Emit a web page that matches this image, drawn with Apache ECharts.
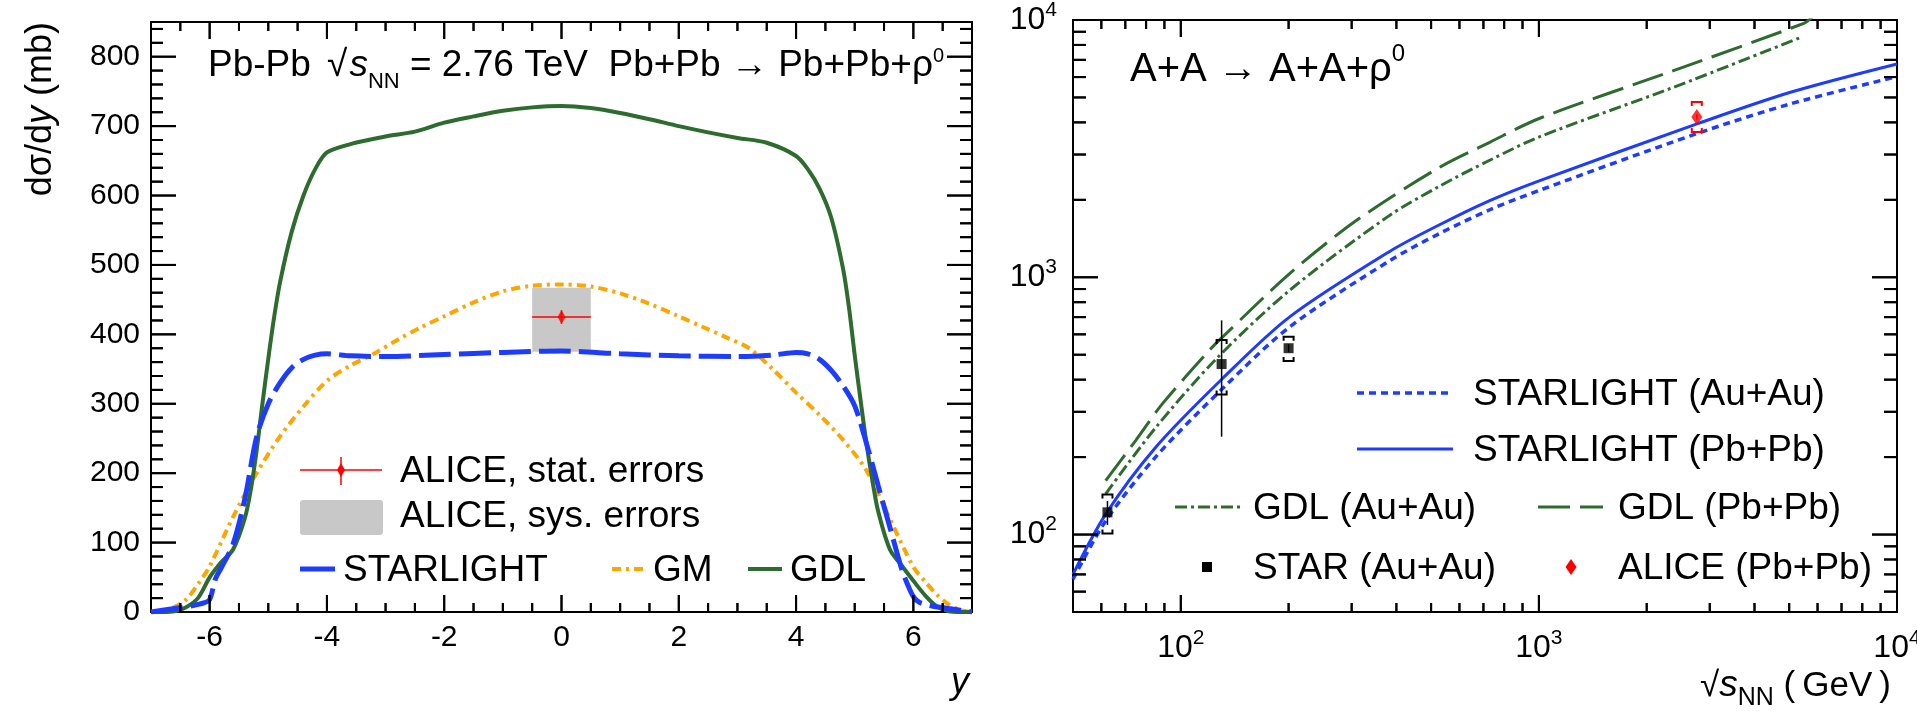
<!DOCTYPE html>
<html>
<head>
<meta charset="utf-8">
<script src="https://cdn.jsdelivr.net/npm/echarts@6/dist/echarts.min.js"></script>
<style>
  html, body { margin: 0; padding: 0; background: #fff; }
  #chart { width: 1917px; height: 711px; }
</style>
</head>
<body>
<div id="chart"></div>
<script>
const FF = '"Liberation Sans", Arial, Helvetica, sans-serif'
const BLUE = '#1e3cff'
const GREEN = '#2e6b2e'
const ORANGE = '#ffa500'
const RED = '#ff0000'
const GRAY = '#c8c8c8'

// ---- left panel: dsigma/dy vs y, Pb-Pb 2.76 TeV (mb)
const slY = [-7, -6.6, -6.3, -6.1, -6.0, -5.9, -5.8, -5.6, -5.4, -5.2, -5.0, -4.8, -4.6, -4.4, -4.2, -4.0, -3.6, -3.0, -2.0, -1.0,
  0, 1, 2, 3, 3.6, 4.0, 4.2, 4.4, 4.6, 4.8, 5.0, 5.2, 5.4, 5.6, 5.8, 5.9, 6.0, 6.1, 6.3, 6.6, 7]
const slVal = [0, 5, 9, 13, 18, 48, 64, 98, 163, 252, 300, 330, 352, 364, 370, 372, 369, 368, 371, 374,
  376, 372, 369, 368, 370, 374, 372, 364, 348, 326, 297, 243, 182, 122, 62, 40, 22, 14, 9, 5, 0]

const gmY = [-7, -6.8, -6.6, -6.4, -6.2, -6.0, -5.6, -5.2, -4.8, -4.4, -4.0, -3.6, -3.2, -2.8, -2.4, -2.0, -1.5, -1.0, -0.5,
  0, 0.5, 1.0, 1.5, 2.0, 2.4, 2.8, 3.2, 3.6, 4.0, 4.4, 4.8, 5.2, 5.6, 6.0, 6.2, 6.4, 6.6, 6.8, 7]
const gmVal = [0, 2, 7, 18, 40, 66, 137, 200, 253, 296, 333, 355, 372, 392, 410, 426, 446, 462, 470,
  472, 469, 459, 444, 426, 411, 396, 380, 350, 316, 284, 248, 204, 134, 65, 44, 25, 11, 3, 0]

const gdlY = [-7, -6.8, -6.6, -6.4, -6.2, -6.0, -5.8, -5.6, -5.4, -5.3, -5.2, -5.1, -5.0, -4.9, -4.8, -4.6, -4.4, -4.2, -4.0, -3.6,
  -3.0, -2.5, -2.0, -1.5, -1.0, -0.5, 0, 0.5, 1.0, 1.5, 2.0, 2.5, 3.0, 3.5, 4.0, 4.2, 4.4, 4.6, 4.8, 4.9,
  5.0, 5.1, 5.2, 5.3, 5.4, 5.6, 5.8, 6.0, 6.2, 6.4, 6.6, 6.8, 7]
const gdlVal = [0, 0, 1, 7, 20, 50, 72, 90, 135, 175, 232, 300, 365, 425, 475, 548, 600, 638, 662, 674,
  685, 692, 705, 714, 722, 727, 729, 726, 719, 710, 700, 691, 683, 676, 657, 638, 610, 568, 495, 440,
  370, 305, 243, 190, 145, 90, 67, 45, 24, 8, 1, 0, 0]

// ALICE: y, value, stat, sys+, sys-, half width in y
const aliceLeft = [[0, 425, 10, 42, 50, 0.5]]

const leftXMajor = [-6, -4, -2, 0, 2, 4, 6]
const leftYMajor = [100, 200, 300, 400, 500, 600, 700, 800]

// ---- right panel: sigma vs sqrt(s_NN) (mb)
const slS = [50, 61.7, 85, 131, 201, 383, 528, 729, 1006, 2763, 5040, 10000]
const slPbVal = [70, 120, 218, 405, 700, 1260, 1600, 1986, 2376, 3945, 5237, 6749]
const slAuVal = [67, 113, 200, 370, 640, 1160, 1480, 1830, 2180, 3620, 4720, 6030]

const gdlPbS = [61.7, 74.8, 88.8, 120, 130.7, 201, 309, 528, 729, 1006, 2376, 5492, 5800]
const gdlPbVal = [162, 232, 322, 519, 585, 1031, 1661, 2676, 3347, 4150, 6358, 9710, 10250]
const gdlAuS = [61.7, 85, 125.3, 201, 383, 528, 729, 1006, 2376, 5436]
const gdlAuVal = [144, 260, 480, 888, 1740, 2260, 2850, 3520, 5474, 8600]

// s, value, stat, sys+, sys-
const starPts = [[62.4, 122, 13, 21, 21], [130, 460, 220, 110, 110], [200, 530, 19, 57, 57]]
const alicePts = [[2760, 4200, 100, 600, 530]]

const logMajor = [100, 1000]
const logMinor = [60, 70, 80, 90, 200, 300, 400, 500, 600, 700, 800, 900, 2000, 3000, 4000, 5000, 6000, 7000, 8000, 9000]

const zip = (xs, ys) => xs.map((x, i) => [x, ys[i]])

// minor ticks of the linear panel
const leftXMinor = []
for (let v = -6.5; v <= 6.5; v += 0.5) if (leftXMajor.indexOf(v) < 0) leftXMinor.push(v)
const leftYMinor = []
for (let v = 20; v <= 840; v += 20) if (v % 100 !== 0) leftYMinor.push(v)

// grid boxes in pixels
const G0 = { left: 151, top: 22, width: 821, height: 590 }
const G1 = { left: 1073, top: 20, width: 824, height: 592 }

// ---- frame ticks, drawn as thin rect symbols centred half a tick inside the frame
// linear panel: offsets turned into axis units
function linTickMarks(xMaj, xMin, yMaj, yMin, box, g, len) {
  const ux = (box[1] - box[0]) / g.width, uy = (box[3] - box[2]) / g.height
  const out = []
  const vx = (v, l) => {
    out.push({ value: [v, box[2] + l / 2 * uy], symbolSize: [2, l] })
    out.push({ value: [v, box[3] - l / 2 * uy], symbolSize: [2, l] })
  }
  const hy = (v, l) => {
    out.push({ value: [box[0] + l / 2 * ux, v], symbolSize: [l, 2] })
    out.push({ value: [box[1] - l / 2 * ux, v], symbolSize: [l, 2] })
  }
  xMaj.forEach(v => vx(v, len[0])); xMin.forEach(v => vx(v, len[1]))
  yMaj.forEach(v => hy(v, len[2])); yMin.forEach(v => hy(v, len[3]))
  return out
}
// log panel: offsets turned into decades
function logTickMarks(xMaj, xMin, yMaj, yMin, box, g, len) {
  const dx = (Math.log10(box[1]) - Math.log10(box[0])) / g.width
  const dy = (Math.log10(box[3]) - Math.log10(box[2])) / g.height
  const out = []
  const vx = (v, l) => {
    out.push({ value: [v, box[2] * Math.pow(10, l / 2 * dy)], symbolSize: [2, l] })
    out.push({ value: [v, box[3] / Math.pow(10, l / 2 * dy)], symbolSize: [2, l] })
  }
  const hy = (v, l) => {
    out.push({ value: [box[0] * Math.pow(10, l / 2 * dx), v], symbolSize: [l, 2] })
    out.push({ value: [box[1] / Math.pow(10, l / 2 * dx), v], symbolSize: [l, 2] })
  }
  xMaj.forEach(v => vx(v, len[0])); xMin.forEach(v => vx(v, len[1]))
  yMaj.forEach(v => hy(v, len[2])); yMin.forEach(v => hy(v, len[3]))
  return out
}
function tickScatter(xi, data) {
  return {
    type: 'scatter', xAxisIndex: xi, yAxisIndex: xi, data, symbol: 'rect',
    itemStyle: { color: '#000', opacity: 1 }, z: 4, silent: true, large: false, clip: false
  }
}

// second route for the same ticks: one custom item at an inner point,
// tick positions from api.coord at inner values, frame edges from the coordinate system box
function tickCustom(xi, mid, xMaj, xMin, yMaj, yMin, len) {
  return {
    type: 'custom', xAxisIndex: xi, yAxisIndex: xi, data: [mid], zlevel: 1, z: 10, silent: true,
    renderItem: function (params, api) {
      const cs = params.coordSys
      const children = []
      const ln = (x1, y1, x2, y2) => children.push({
        type: 'line', shape: { x1, y1, x2, y2 }, style: { stroke: '#000', lineWidth: 2 }
      })
      const bottom = cs.y + cs.height, top = cs.y, left = cs.x, right = cs.x + cs.width
      const vx = (v, l) => { const x = api.coord([v, mid[1]])[0]; ln(x, bottom, x, bottom - l); ln(x, top, x, top + l) }
      const hy = (v, l) => { const y = api.coord([mid[0], v])[1]; ln(left, y, left + l, y); ln(right, y, right - l, y) }
      xMaj.forEach(v => vx(v, len[0])); xMin.forEach(v => vx(v, len[1]))
      yMaj.forEach(v => hy(v, len[2])); yMin.forEach(v => hy(v, len[3]))
      return { type: 'group', children }
    }
  }
}

function renderSysBox(params, api) {
  const y = api.value(0), v = api.value(1), hw = api.value(5)
  const a = api.coord([y - hw, v + api.value(3)])
  const b = api.coord([y + hw, v - api.value(4)])
  return { type: 'rect', shape: { x: a[0], y: a[1], width: b[0] - a[0], height: b[1] - a[1] }, style: { fill: GRAY } }
}

function renderStatCross(params, api) {
  const y = api.value(0), v = api.value(1), hw = api.value(5), st = api.value(2)
  const l = api.coord([y - hw, v]), r = api.coord([y + hw, v])
  const t = api.coord([y, v + st]), b = api.coord([y, v - st])
  return {
    type: 'group', children: [
      { type: 'line', shape: { x1: l[0], y1: l[1], x2: r[0], y2: r[1] }, style: { stroke: RED, lineWidth: 1.5 } },
      { type: 'line', shape: { x1: t[0], y1: t[1], x2: b[0], y2: b[1] }, style: { stroke: RED, lineWidth: 1.5 } }
    ]
  }
}

function bracketRenderer(color) {
  return function (params, api) {
    const s = api.value(0), v = api.value(1)
    const c = api.coord([s, v])
    const st1 = api.coord([s, v + api.value(2)])[1]
    const st2 = api.coord([s, v - api.value(2)])[1]
    const top = api.coord([s, v + api.value(3)])[1]
    const bot = api.coord([s, v - api.value(4)])[1]
    const w = 5, h = 4
    const st = { stroke: color, lineWidth: 2, fill: null }
    return {
      type: 'group', children: [
        { type: 'line', shape: { x1: c[0], y1: st1, x2: c[0], y2: st2 }, style: { stroke: color, lineWidth: 1.5 } },
        { type: 'polyline', shape: { points: [[c[0] - w, top + h], [c[0] - w, top], [c[0] + w, top], [c[0] + w, top + h]] }, style: st },
        { type: 'polyline', shape: { points: [[c[0] - w, bot - h], [c[0] - w, bot], [c[0] + w, bot], [c[0] + w, bot - h]] }, style: st }
      ]
    }
  }
}

function powLabel(v) {
  const l = Math.log10(v)
  const n = Math.round(l)
  if (Math.abs(l - n) > 1e-6) return ''
  return '{b|10}{s|' + n + '}'
}
const powRich = {
  b: { fontSize: 32, fontFamily: FF, color: '#000', lineHeight: 44 },
  s: { fontSize: 21, fontFamily: FF, color: '#000', height: 24, lineHeight: 24, verticalAlign: 'top' }
}

function lineSeries(name, xi, data, color, width, dash) {
  return {
    name, type: 'line', xAxisIndex: xi, yAxisIndex: xi, data,
    showSymbol: false, symbol: 'none', smooth: 0.3, clip: true,
    lineStyle: { color, width, type: dash || 'solid', cap: 'butt' }, z: 2
  }
}

// ---- legend and text helpers
function text(x, y, t, size, extra) {
  return {
    type: 'text', x, y, z: 10,
    style: Object.assign({
      text: t, fontSize: size, fontFamily: FF, font: size + 'px ' + FF,
      fill: '#000', align: 'left', verticalAlign: 'middle'
    }, extra || {})
  }
}
function tok(size, more) {
  return Object.assign({ fontSize: size, fontFamily: FF, fill: '#000', color: '#000' }, more || {})
}
function seg(x1, y1, x2, y2, color, width, dash) {
  return {
    type: 'line', z: 10, shape: { x1, y1, x2, y2 },
    style: { stroke: color, lineWidth: width, lineDash: dash || null, lineCap: 'butt' }
  }
}
function diamond(cx, cy, w, h, color) {
  return {
    type: 'polygon', z: 10,
    shape: { points: [[cx, cy - h / 2], [cx + w / 2, cy], [cx, cy + h / 2], [cx - w / 2, cy]] },
    style: { fill: color }
  }
}

const graphics = [
  // left header
  text(208, 66, '{n|Pb-Pb }{r|√}{i|s}{sub|NN}{n| = 2.76 TeV  Pb+Pb → Pb+Pb+ρ}{sup|0}', 37, {
    lineHeight: 56,
    rich: {
      n: tok(37, { lineHeight: 56 }),
      r: tok(37, { lineHeight: 56, padding: [0, 2, 0, 6] }),
      i: tok(37, { lineHeight: 56, fontStyle: 'italic' }),
      sub: tok(22, { height: 24, verticalAlign: 'bottom' }),
      sup: tok(20, { height: 37, verticalAlign: 'top' })
    }
  }),
  // left axis titles
  {
    type: 'text', x: 41, y: 22, rotation: Math.PI / 2, z: 10,
    style: {
      text: '{n|dσ/d}{i|y}{n| (mb)}', fontSize: 36, fontFamily: FF, fill: '#000', align: 'right', verticalAlign: 'middle',
      rich: { n: tok(36), i: tok(36, { fontStyle: 'italic' }) }
    }
  },
  text(960, 683, 'y', 36, { align: 'center', fontStyle: 'italic', font: 'italic 36px ' + FF }),
  // left legend
  seg(300, 470, 382, 470, RED, 1.5),
  seg(341, 457, 341, 485, RED, 1.5),
  diamond(341, 470, 8, 14, RED),
  text(400, 472, 'ALICE, stat. errors', 37),
  { type: 'rect', z: 10, shape: { x: 300, y: 500, width: 83, height: 35, r: 3 }, style: { fill: GRAY } },
  text(400, 517, 'ALICE, sys. errors', 37),
  seg(300, 569, 335, 569, BLUE, 5),
  text(343, 571, 'STARLIGHT', 37),
  seg(612, 569, 643, 569, ORANGE, 4, [9, 5, 3, 5]),
  text(653, 571, 'GM', 37),
  seg(748, 569, 782, 569, GREEN, 4),
  text(790, 571, 'GDL', 37),
  // right header
  text(1130, 70, '{n|A+A → A+A+ρ}{sup|0}', 40, {
    lineHeight: 60,
    rich: {
      n: tok(40, { lineHeight: 60 }),
      sup: tok(24, { height: 28, verticalAlign: 'top' })
    }
  }),
  // right x title
  text(1700, 686, '{r|√}{i|s}{sub|NN}{n| (\u2009GeV\u2009)}', 35, {
    lineHeight: 56,
    rich: {
      n: tok(35, { lineHeight: 56 }),
      r: tok(35, { lineHeight: 56 }),
      i: tok(37, { lineHeight: 56, fontStyle: 'italic' }),
      sub: tok(25, { height: 31, verticalAlign: 'bottom' })
    }
  }),
  // right legend
  seg(1357, 393, 1453, 393, BLUE, 3.5, [7, 5]),
  text(1473, 395, 'STARLIGHT (Au+Au)', 37),
  seg(1357, 449, 1453, 449, BLUE, 3),
  text(1473, 451, 'STARLIGHT (Pb+Pb)', 37),
  seg(1175, 507, 1240, 507, GREEN, 3, [12, 4, 3, 4]),
  text(1253, 509, 'GDL (Au+Au)', 37),
  seg(1538, 507, 1603, 507, GREEN, 3, [32, 10]),
  text(1618, 509, 'GDL (Pb+Pb)', 37),
  { type: 'rect', z: 10, shape: { x: 1202, y: 562, width: 10, height: 10 }, style: { fill: '#000' } },
  text(1253, 569, 'STAR (Au+Au)', 37),
  diamond(1571, 567, 11, 16, RED),
  text(1618, 569, 'ALICE (Pb+Pb)', 37)
]

const axisLabelLin = { fontSize: 30, fontFamily: FF, color: '#000' }
const noAxisBits = { axisLine: { show: false, onZero: false }, axisTick: { show: false }, splitLine: { show: false }, minorTick: { show: false } }

const chart = echarts.init(document.getElementById('chart'))
chart.setOption({
  animation: false,
  backgroundColor: '#fff',
  grid: [
    Object.assign({ show: true, borderColor: '#000', borderWidth: 2, backgroundColor: 'transparent', containLabel: false, outerBoundsMode: 'none' }, G0),
    Object.assign({ show: true, borderColor: '#000', borderWidth: 2, backgroundColor: 'transparent', containLabel: false, outerBoundsMode: 'none' }, G1)
  ],
  xAxis: [
    Object.assign({
      gridIndex: 0, type: 'value', min: -7, max: 7, interval: 1,
      axisLabel: Object.assign({ margin: 11, formatter: v => (v % 2 === 0 ? String(v) : '') }, axisLabelLin)
    }, noAxisBits),
    Object.assign({
      gridIndex: 1, type: 'log', logBase: 10, min: 50, max: 10000,
      axisLabel: { margin: 14, formatter: powLabel, rich: powRich }
    }, noAxisBits)
  ],
  yAxis: [
    Object.assign({
      gridIndex: 0, type: 'value', min: 0, max: 850, interval: 100,
      axisLabel: Object.assign({ margin: 11, formatter: v => (v <= 800 ? String(v) : '') }, axisLabelLin)
    }, noAxisBits),
    Object.assign({
      gridIndex: 1, type: 'log', logBase: 10, min: 50, max: 10000,
      axisLabel: { margin: 16, formatter: powLabel, rich: powRich }
    }, noAxisBits)
  ],
  series: [
    // left panel
    { type: 'custom', xAxisIndex: 0, yAxisIndex: 0, data: aliceLeft, renderItem: renderSysBox, z: 1, silent: true },
    lineSeries('GM', 0, zip(gmY, gmVal), ORANGE, 4, [9, 5, 3, 5]),
    lineSeries('GDL', 0, zip(gdlY, gdlVal), GREEN, 4),
    lineSeries('STARLIGHT', 0, zip(slY, slVal), BLUE, 5, [32, 8]),
    { type: 'custom', xAxisIndex: 0, yAxisIndex: 0, data: aliceLeft, renderItem: renderStatCross, z: 3, silent: true },
    {
      type: 'scatter', xAxisIndex: 0, yAxisIndex: 0, data: aliceLeft.map(d => [d[0], d[1]]),
      symbol: 'diamond', symbolSize: [8, 14], itemStyle: { color: RED }, z: 4, silent: true
    },
    tickScatter(0, linTickMarks(leftXMajor, leftXMinor, leftYMajor, leftYMinor, [-7, 7, 0, 850], G0, [17, 9, 25, 12])),
    tickCustom(0, [0, 400], leftXMajor, leftXMinor, leftYMajor, leftYMinor, [17, 9, 25, 12]),
    // right panel
    lineSeries('STARLIGHT (Au+Au)', 1, zip(slS, slAuVal), BLUE, 3.5, [7, 5]),
    lineSeries('STARLIGHT (Pb+Pb)', 1, zip(slS, slPbVal), BLUE, 3),
    lineSeries('GDL (Au+Au)', 1, zip(gdlAuS, gdlAuVal), GREEN, 3, [12, 4, 3, 4]),
    lineSeries('GDL (Pb+Pb)', 1, zip(gdlPbS, gdlPbVal), GREEN, 3, [32, 10]),
    { type: 'custom', xAxisIndex: 1, yAxisIndex: 1, data: starPts, renderItem: bracketRenderer('#000'), z: 3, silent: true },
    { type: 'custom', xAxisIndex: 1, yAxisIndex: 1, data: alicePts, renderItem: bracketRenderer(RED), z: 3, silent: true },
    {
      type: 'scatter', xAxisIndex: 1, yAxisIndex: 1, data: starPts.map(d => [d[0], d[1]]),
      symbol: 'rect', symbolSize: 10, itemStyle: { color: '#000' }, z: 4, silent: true
    },
    {
      type: 'scatter', xAxisIndex: 1, yAxisIndex: 1, data: alicePts.map(d => [d[0], d[1]]),
      symbol: 'diamond', symbolSize: [11, 16], itemStyle: { color: RED }, z: 4, silent: true
    },
    tickScatter(1, logTickMarks(logMajor, logMinor, logMajor, logMinor, [50, 10000, 50, 10000], G1, [17, 9, 25, 13])),
    tickCustom(1, [1000, 1000], logMajor, logMinor, logMajor, logMinor, [17, 9, 25, 13])
  ],
  graphic: { elements: graphics }
})
</script>
</body>
</html>
